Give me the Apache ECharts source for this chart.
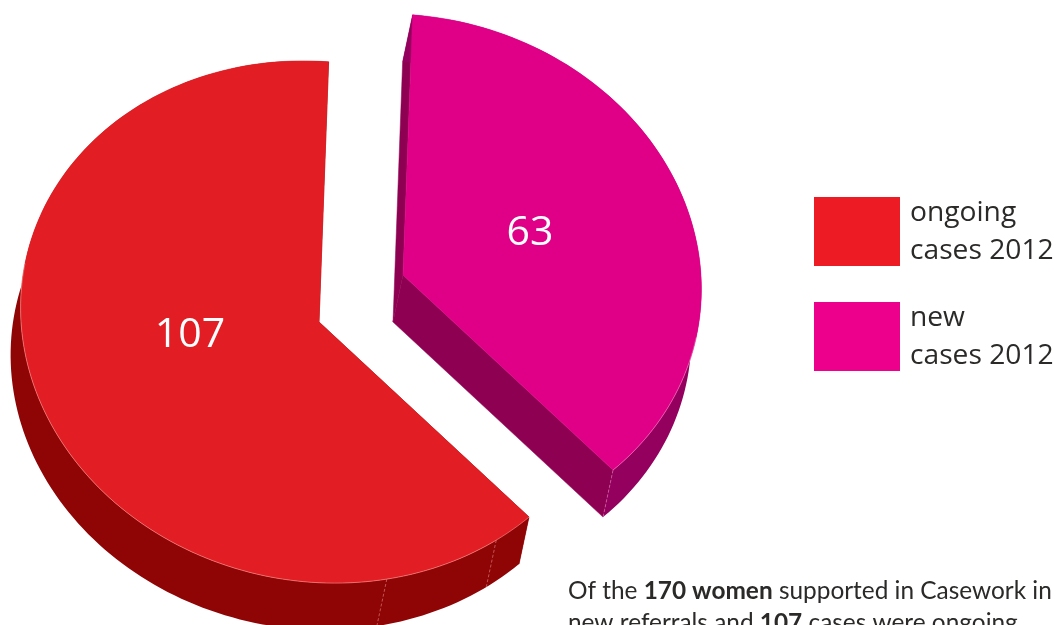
<!DOCTYPE html>
<html>
<head>
<meta charset="utf-8">
<style>html,body{margin:0;padding:0;background:#fff;overflow:hidden}#chart{width:1059px;height:625px}</style>
<script src="https://cdn.jsdelivr.net/npm/echarts@6/dist/echarts.min.js"></script>
</head>
<body>
<div id="chart"></div>
<script>
// Casework caseload 2012
const sliceNames = ['ongoing\ncases 2012', 'new\ncases 2012'];
const sliceValues = [107, 63];
const totalWomen = 170;

// Tilted disc: linear map from the unit circle to the page, plus extrusion
const discXX = 298.3, discXY = 7.5, discYX = 7.5, discYY = 261;
const depthX = -10, depthY = 47;
const firstSliceStart = 46.7;   // degrees, clockwise on screen

const sliceStyles = [
  { apex: [319, 322], top: '#e21e24', wall: '#8f0405', rim: '#8f0405', edge: '#f3a7a0', legend: '#ed1c24',
    seams: [55, 78.3], labelAt: [190, 335] },
  { apex: [403, 275], top: '#e00088', wall: '#8e0052', rim: '#94005e', edge: '#f08cc4', legend: '#ec008c',
    seams: [], labelAt: [530, 233] }
];

function arcPoint(apex, deg) {
  const t = deg * Math.PI / 180, c = Math.cos(t), s = Math.sin(t);
  return [apex[0] + discXX * c + discXY * s, apex[1] + discYX * c + discYY * s];
}
const shift = p => [p[0] + depthX, p[1] + depthY];

function renderSlice(index, start, sweep) {
  const st = sliceStyles[index], apex = st.apex;
  const steps = Math.ceil(sweep / 1.5);
  const arc = [];
  for (let i = 0; i <= steps; i++) arc.push(arcPoint(apex, start + sweep * i / steps));
  const children = [];
  const wallFace = (a, b) => children.push({
    type: 'polygon', shape: { points: [a, b, shift(b), shift(a)] },
    style: { fill: st.wall, stroke: st.wall, lineWidth: 0.5 }
  });
  // inner cut faces, then the outer rim as one sweep
  wallFace(apex, arc[0]);
  wallFace(apex, arc[steps]);
  children.push({
    type: 'polygon', shape: { points: arc.concat(arc.map(shift).reverse()) },
    style: { fill: st.rim }
  });
  // top face
  children.push({
    type: 'polygon', shape: { points: [apex].concat(arc) },
    style: { fill: st.top, stroke: st.top, lineWidth: 0.5 }
  });
  // pale highlight where the top face meets a visible rim
  for (let i = 0; i < steps; i++) {
    const dx = arc[i + 1][0] - arc[i][0], dy = arc[i + 1][1] - arc[i][1];
    if (dx * depthY - dy * depthX < 0) {
      children.push({
        type: 'line', shape: { x1: arc[i][0], y1: arc[i][1], x2: arc[i + 1][0], y2: arc[i + 1][1] },
        style: { stroke: st.edge, lineWidth: 0.5 }
      });
    }
  }
  // faint facet seams on the rim
  const seamPoints = st.seams.map(d => arcPoint(apex, d));
  if (index === 1) seamPoints.push(arc[steps]);
  seamPoints.forEach(p => {
    const q = shift(p);
    children.push({
      type: 'line', shape: { x1: p[0], y1: p[1], x2: q[0], y2: q[1] },
      style: { stroke: st.edge, lineWidth: 0.5, lineDash: [3, 2] }
    });
  });
  children.push({
    type: 'text', x: st.labelAt[0], y: st.labelAt[1],
    style: {
      text: String(sliceValues[index]), fill: '#ffffff', fontSize: 41,
      fontFamily: 'Open Sans', align: 'center', verticalAlign: 'middle'
    }
  });
  return { type: 'group', children };
}

// Start angles run from the values, the new cases finishing where ongoing begins
const sum = sliceValues.reduce((a, b) => a + b, 0);
let cursor = firstSliceStart;
const series = sliceNames.map((name, i) => {
  const sweep = sliceValues[i] / sum * 360, start = cursor;
  cursor += sweep;
  return {
    type: 'custom', name, coordinateSystem: 'none', silent: true, animation: false,
    itemStyle: { color: sliceStyles[i].legend },
    data: [[sliceValues[i]]],
    renderItem: () => renderSlice(i, start, sweep)
  };
});

const chart = echarts.init(document.getElementById('chart'), null, { renderer: 'canvas' });
chart.setOption({
  backgroundColor: '#ffffff',
  animation: false,
  legend: {
    left: 814, top: 193.5, padding: 0, orient: 'vertical', selectedMode: false,
    itemWidth: 86, itemHeight: 69, itemGap: 29, itemStyle: { borderWidth: 0 },
    textStyle: { fontFamily: 'Open Sans', fontSize: 28.2, lineHeight: 38, color: '#2b2a29', padding: [0, 0, 0, 5] },
    data: sliceNames.map((name, i) => ({ name, icon: 'rect', itemStyle: { color: sliceStyles[i].legend } }))
  },
  title: {
    left: 568, top: 575, padding: 0,
    text: '{r|Of the }{b|' + totalWomen + ' women}{r| supported in Casework in}\n{r|new referrals and }{b|' + sliceValues[0] + '}{r| cases were ongoing}',
    textStyle: {
      rich: {
        r: { fontFamily: 'Lato', fontSize: 24.4, fontWeight: 'normal', color: '#2b2a29', lineHeight: 32 },
        b: { fontFamily: 'Lato', fontSize: 24.4, fontWeight: 'bold', color: '#2b2a29', lineHeight: 32 }
      }
    }
  },
  series
});
</script>
</body>
</html>
